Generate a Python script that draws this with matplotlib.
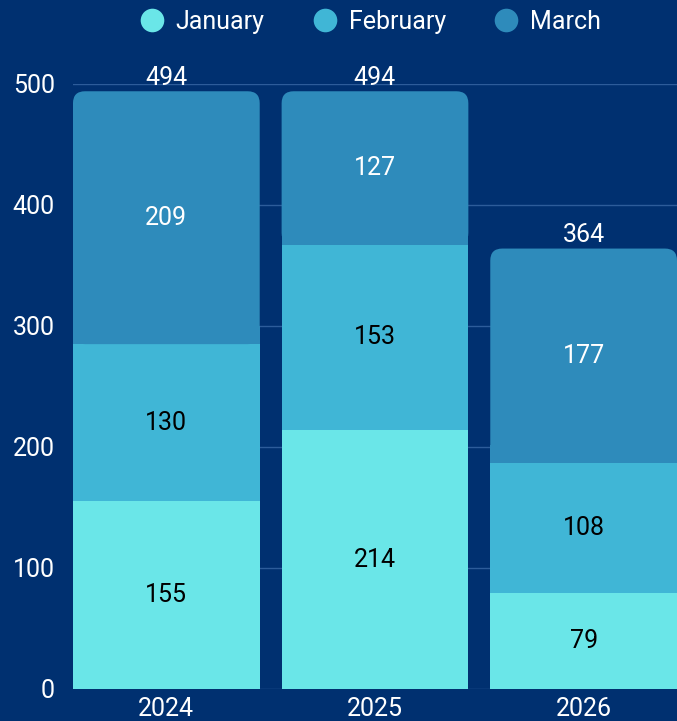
"""
Monthly totals per year, stacked bars on a navy background
"""

import numpy as np
import matplotlib.pyplot as plt
from matplotlib.patches import FancyBboxPatch, Rectangle

years = ['2024', '2025', '2026']
months = ['January', 'February', 'March']
january = [155, 214, 79]
february = [130, 153, 108]
march = [209, 127, 177]

BG = '#003070'
COLORS = ['#6ae6e8', '#40b6d6', '#2e8bbb']
TEXT_COLORS = ['black', 'black', 'white']
FS = 18

plt.rcParams['font.family'] = ['Roboto', 'DejaVu Sans']

fig = plt.figure(figsize=(6.77, 7.21), dpi=100, facecolor=BG)
ax = fig.add_axes([0.1078, 0.0444, 0.8922, 0.8391])
ax.set_facecolor(BG)

x = np.arange(len(years))
width = 0.895
series = [january, february, march]
bottoms = np.zeros(len(years))

ax.set_xlim(-width / 2, len(years) - 1 + width / 2)
ax.set_ylim(0, 500)
# px per data unit, used to keep the rounded corners circular
fig.canvas.draw()
bbox = ax.get_window_extent()
px_x = bbox.width / (ax.get_xlim()[1] - ax.get_xlim()[0])
px_y = bbox.height / 500
radius = 12 / px_x
radius_y = radius * px_x / px_y

for i, vals in enumerate(series):
    vals = np.array(vals)
    if i < len(series) - 1:
        ax.bar(x, vals, width, bottom=bottoms, color=COLORS[i], zorder=2, linewidth=0)
    else:
        # top segment gets rounded top corners only
        for xi, b, v in zip(x, bottoms, vals):
            ax.add_patch(FancyBboxPatch((xi - width / 2, b), width, v,
                                        boxstyle=f'round,pad=0,rounding_size={radius}',
                                        mutation_aspect=px_x / px_y, linewidth=0,
                                        facecolor=COLORS[i], edgecolor='none', zorder=2))
            ax.add_patch(Rectangle((xi - width / 2, b), width, 1.5 * radius_y, linewidth=0,
                                   facecolor=COLORS[i], edgecolor='none', zorder=2))
    for xi, b, v in zip(x, bottoms, vals):
        ax.text(xi, b + v / 2, str(v), ha='center', va='center',
                color=TEXT_COLORS[i], fontsize=FS, zorder=3)
    bottoms = bottoms + vals

for xi, total in zip(x, bottoms):
    ax.annotate(str(int(total)), (xi, total), xytext=(0, 1), textcoords='offset points',
                ha='center', va='bottom', color='white', fontsize=FS, annotation_clip=False)

# legend
handles = [plt.Line2D([], [], marker='o', linestyle='', markersize=17,
                      markerfacecolor=c, markeredgecolor='none') for c in COLORS]
fig.legend(handles, months, loc='center', bbox_to_anchor=(370 / 677, 1 - 22 / 721), ncol=3,
           frameon=False, labelcolor='white', fontsize=FS, handletextpad=0.45,
           columnspacing=1.9, handlelength=1.0, borderpad=0)

ax.set_xticks(x)
ax.set_xticklabels(years)
ax.set_yticks(np.arange(0, 501, 100))
ax.tick_params(axis='x', length=0, pad=6, colors='white', labelsize=FS)
ax.tick_params(axis='y', length=0, pad=13, colors='white', labelsize=FS)
ax.grid(True, axis='y', color='#2d5c9a', linewidth=1, zorder=0)
ax.set_axisbelow(True)
for s in ax.spines.values():
    s.set_visible(False)

plt.savefig('out.png', dpi=100, facecolor=BG)
